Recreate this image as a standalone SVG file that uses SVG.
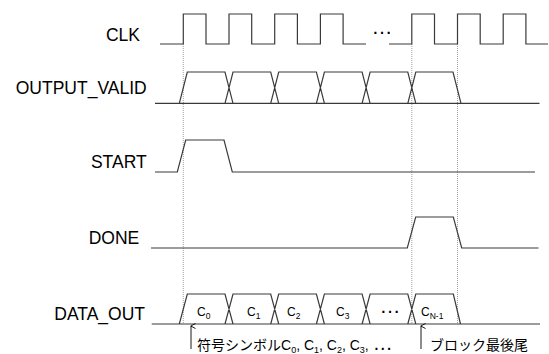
<svg xmlns="http://www.w3.org/2000/svg" width="549" height="354" viewBox="0 0 549 354">
<style>
.lbl{font-family:"Liberation Sans",Arial,sans-serif;font-size:17.5px;fill:#000;text-anchor:end}
.sig{fill:none;stroke:#3a3a3a;stroke-width:1.2;stroke-linejoin:miter}
.guide{fill:none;stroke:#8a8a8a;stroke-width:0.8;stroke-dasharray:1 1}
.sym{font-family:"Liberation Sans",Arial,sans-serif;font-size:12px;fill:#000}
.ann{font-family:"Liberation Sans","Noto Sans CJK JP",sans-serif;font-size:14px;fill:#000}
.arr{fill:none;stroke:#000;stroke-width:0.9}
</style>
<defs>
<marker id="ah" markerWidth="8" markerHeight="8" refX="4" refY="1" orient="auto-start-reverse" markerUnits="userSpaceOnUse" viewBox="0 0 8 8">
<path d="M1.5,5.5 L4,0.8 L6.5,5.5" fill="none" stroke="#000" stroke-width="0.9"/>
</marker>
</defs>

<g id="guides">
<line class="guide" x1="183.3" y1="44" x2="183.3" y2="324"/>
<line class="guide" x1="411.8" y1="44" x2="411.8" y2="324"/>
<line class="guide" x1="457.5" y1="44" x2="457.5" y2="324"/>
</g>

<g id="clk">
<text class="lbl" x="140" y="40.5">CLK</text>
<path class="sig" d="M160,44 H183.3 V14 H206 V44 H229 V14 H251.7 V44 H274.7 V14 H297.4 V44 H320.4 V14 H343.1 V44 H366 M389,44 H411.8 V14 H434.5 V44 H457.5 V14 H480.2 V44 H503.2 V14 H525.9 V44 H548"/>
<text x="382" y="34" style="font-family:'Liberation Sans',Arial,sans-serif;font-size:21px;text-anchor:middle">…</text>
</g>

<g id="output_valid">
<text class="lbl" x="146.7" y="94">OUTPUT_VALID</text>
<path class="sig" d="M155,103.3 H539.5
M179.3,103.3 L187.3,72 H225
L233,103.3 M225,103.3 L233,72 H270.7
L278.7,103.3 M270.7,103.3 L278.7,72 H316.4
L324.4,103.3 M316.4,103.3 L324.4,72 H362.1
L370.1,103.3 M362.1,103.3 L370.1,72 H407.8
L415.8,103.3 M407.8,103.3 L415.8,72 H453
L461,103.3"/>
</g>

<g id="start">
<text class="lbl" x="146.7" y="167.7">START</text>
<path class="sig" d="M155,172 H177.3 L185.7,140 H224 L232.3,172 H535"/>
</g>

<g id="done">
<text class="lbl" x="139.3" y="244">DONE</text>
<path class="sig" d="M151,248 H407.3 L415.7,217 H453.3 L461.7,248 H538.5"/>
</g>

<g id="data_out">
<text class="lbl" x="145" y="320">DATA_OUT</text>
<path class="sig" d="M151.7,324 H540
M179.3,324 L187.3,294 H225
L233,324 M225,324 L233,294 H270.7
L278.7,324 M270.7,324 L278.7,294 H316.4
L324.4,324 M316.4,324 L324.4,294 H362.1
L370.1,324 M362.1,324 L370.1,294 H407.8
L415.8,324 M407.8,324 L415.8,294 H453.3
L460.5,324"/>
<text class="sym" x="197" y="316">C<tspan font-size="8.5" dy="2.5">0</tspan></text>
<text class="sym" x="247" y="316">C<tspan font-size="8.5" dy="2.5">1</tspan></text>
<text class="sym" x="287" y="316">C<tspan font-size="8.5" dy="2.5">2</tspan></text>
<text class="sym" x="336" y="316">C<tspan font-size="8.5" dy="2.5">3</tspan></text>
<text x="390" y="313" style="font-family:'Liberation Sans',Arial,sans-serif;font-size:21px;text-anchor:middle">…</text>
<text class="sym" x="421" y="316">C<tspan font-size="8.5" dy="2.5">N-1</tspan></text>
</g>

<g id="connectors">
<line class="arr" x1="191" y1="349" x2="191" y2="326" marker-end="url(#ah)"/>
<line class="arr" x1="421" y1="349" x2="421" y2="326" marker-end="url(#ah)"/>
</g>

<g id="annotations">
<text class="ann" x="197" y="350">符号シンボルC<tspan font-size="9" dy="2.5">0</tspan><tspan dy="-2.5">, C</tspan><tspan font-size="9" dy="2.5">1</tspan><tspan dy="-2.5">, C</tspan><tspan font-size="9" dy="2.5">2</tspan><tspan dy="-2.5">, C</tspan><tspan font-size="9" dy="2.5">3</tspan><tspan dy="-2.5">, </tspan><tspan font-size="20">…</tspan></text>
<text class="ann" x="430" y="350">ブロック最後尾</text>
</g>
</svg>
